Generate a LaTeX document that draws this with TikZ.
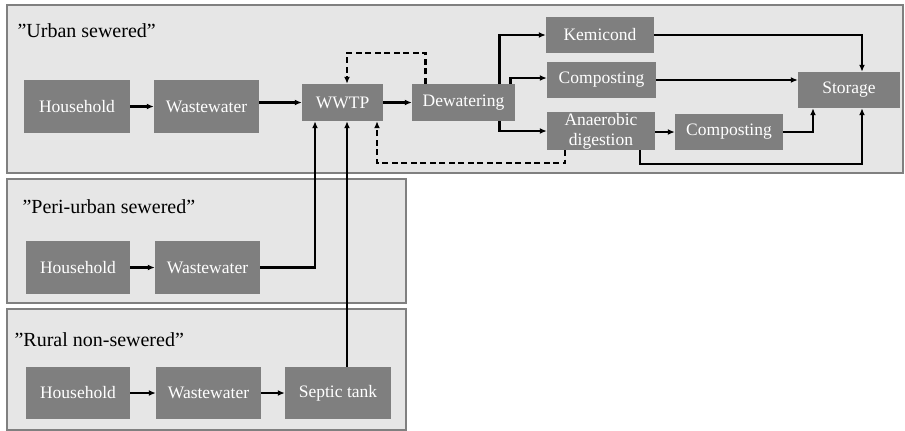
\documentclass[tikz,border=0pt]{standalone}
\usepackage{fontspec}
\setmainfont{Liberation Serif}
\usetikzlibrary{arrows.meta}
\definecolor{boxgray}{HTML}{7F7F7F}
\definecolor{panelfill}{HTML}{E6E6E6}
\definecolor{panelline}{HTML}{808080}
\tikzset{
  stepbox/.style={fill=boxgray, text=white, inner sep=0pt, align=center,
    font=\rmfamily\fontsize{17.5}{20}\selectfont},
  panel/.style={fill=panelfill, draw=panelline, line width=2.5pt},
  zone/.style={anchor=west, font=\rmfamily\fontsize{20}{22}\selectfont},
  flow/.style={line width=2.3pt, -{Latex[length=7pt,width=6pt]}},
  back/.style={flow, dash pattern=on 6pt off 3.5pt}
}
\begin{document}
\begin{tikzpicture}[x=1pt, y=-1pt]
  \useasboundingbox (0,0) rectangle (905,431);
  % --- panels ---
  \draw[panel] (7,5) rectangle (903,173);
  \draw[panel] (7,179) rectangle (406,303);
  \draw[panel] (7,309) rectangle (406,430);
  \node[zone] (lblU) at (14,31) {”Urban sewered”};
  \node[zone] (lblP) at (19,207) {”Peri-urban sewered”};
  \node[zone] (lblR) at (11,340) {”Rural non-sewered”};
  % --- urban sewered ---
  \node[stepbox, minimum width=106, minimum height=53] (houseU) at (77,106.5) {Household};
  \node[stepbox, minimum width=105, minimum height=53] (wasteU) at (206.5,106.5) {Wastewater};
  \node[stepbox, minimum width=81, minimum height=37] (wwtp) at (342.5,102.5) {WWTP};
  \node[stepbox, minimum width=103, minimum height=37] (dewat) at (463.5,102.5) {Dewatering};
  \node[stepbox, minimum width=108, minimum height=36] (kemi) at (600,35) {Kemicond};
  \node[stepbox, minimum width=109, minimum height=36] (compA) at (601.5,80) {Composting};
  \node[stepbox, minimum width=108, minimum height=38] (anaer) at (601,131) {Anaerobic\\digestion};
  \node[stepbox, minimum width=108, minimum height=36] (compB) at (729,132) {Composting};
  \node[stepbox, minimum width=102, minimum height=36] (stor) at (849,90) {Storage};
  % --- peri-urban sewered ---
  \node[stepbox, minimum width=104, minimum height=53] (houseP) at (78,267.5) {Household};
  \node[stepbox, minimum width=105, minimum height=53] (wasteP) at (207.5,267.5) {Wastewater};
  % --- rural non-sewered ---
  \node[stepbox, minimum width=104, minimum height=52] (houseR) at (78,393) {Household};
  \node[stepbox, minimum width=105, minimum height=52] (wasteR) at (208.5,393) {Wastewater};
  \node[stepbox, minimum width=106, minimum height=52] (septic) at (338,393) {Septic tank};
  % --- flows ---
  \draw[flow] (houseU) -- (wasteU);
  \draw[flow] (wasteU.east |- wwtp) -- (wwtp.west);
  \draw[flow] (wwtp) -- (dewat);
  \draw[flow] ([xshift=36pt]dewat.north) |- (kemi.west);
  \draw[flow] ([xshift=47pt]dewat.north) |- ([yshift=2pt]compA.west);
  \draw[flow] ([xshift=36pt]dewat.south) |- (anaer.west);
  \draw[flow] (kemi.east) -| ([xshift=13pt]stor.north);
  \draw[flow] (compA.east) -- (compA.east -| stor.west);
  \draw[flow] (anaer.east |- compB) -- (compB.west);
  \draw[flow] (compB.east) -| ([xshift=-36pt]stor.south);
  \draw[flow] ([xshift=39pt]anaer.south) -- ++(0,14) -| ([xshift=13pt]stor.south);
  \draw[back] ([xshift=-38pt]dewat.north) -- ++(0,-31) -| ([xshift=4.5pt]wwtp.north);
  \draw[back] ([xshift=-36pt]anaer.south) -- ++(0,13) -| ([xshift=34.5pt]wwtp.south);
  \draw[flow] (houseP) -- (wasteP);
  \draw[flow] (wasteP.east) -| ([xshift=-27.5pt]wwtp.south);
  \draw[flow] (houseR) -- (wasteR);
  \draw[flow] (wasteR) -- (septic);
  \draw[flow] ([xshift=9pt]septic.north) -- ([xshift=9pt]septic.north |- wwtp.south);
\end{tikzpicture}
\end{document}
